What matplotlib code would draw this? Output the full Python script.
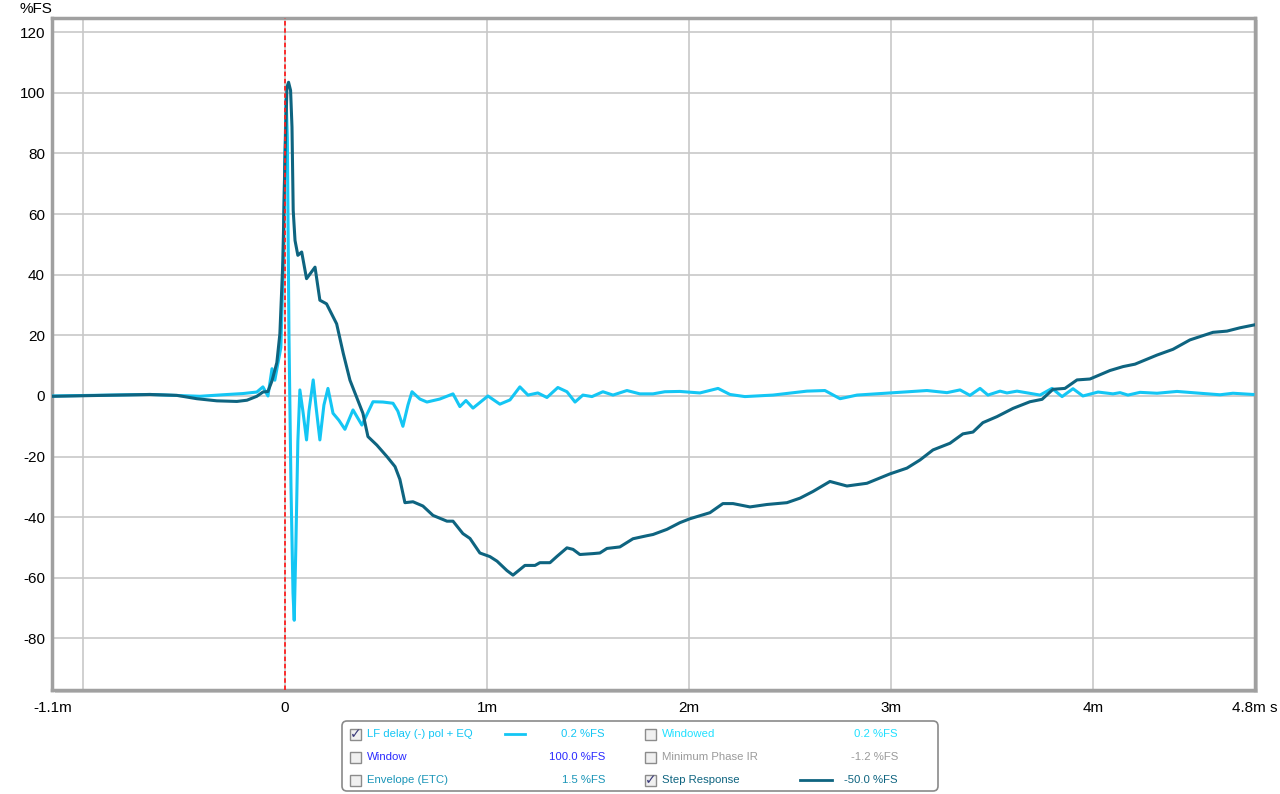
import numpy as np
import matplotlib
matplotlib.use('Agg')
import matplotlib.pyplot as plt
from matplotlib.patches import FancyBboxPatch, Rectangle
from matplotlib.transforms import IdentityTransform

plt.rcParams['font.family'] = ['Liberation Sans', 'DejaVu Sans']

# time in ms, level in %FS
step_t = [-1.153, -1.139, -0.668, -0.535, -0.436, -0.337, -0.238, -0.188, -0.139, -0.109,
          -0.084, -0.064, -0.040, -0.025, -0.010, 0.000, 0.010, 0.018, 0.028, 0.035,
          0.041, 0.050, 0.064, 0.083, 0.107, 0.149, 0.173, 0.206, 0.256, 0.289,
          0.322, 0.386, 0.411, 0.455, 0.505, 0.545, 0.569, 0.594, 0.634, 0.683,
          0.733, 0.802, 0.832, 0.881, 0.916, 0.965, 1.015, 1.050, 1.099, 1.129,
          1.188, 1.238, 1.262, 1.312, 1.347, 1.396, 1.426, 1.460, 1.525, 1.559,
          1.594, 1.658, 1.723, 1.792, 1.822, 1.891, 1.955, 2.005, 2.104, 2.168,
          2.218, 2.302, 2.386, 2.485, 2.550, 2.614, 2.698, 2.782, 2.881, 2.995,
          3.079, 3.144, 3.208, 3.292, 3.356, 3.406, 3.455, 3.525, 3.604, 3.688,
          3.748, 3.802, 3.861, 3.921, 3.985, 4.084, 4.149, 4.208, 4.317, 4.396,
          4.480, 4.594, 4.663, 4.728, 4.802]
step_v = [-0.1, -0.1, 0.5, 0.2, -0.9, -1.6, -1.8, -1.4, -0.1, 1.3,
          1.5, 5.0, 11.0, 20.5, 44.7, 77.7, 101.9, 103.5, 100.8, 88.7,
          61.2, 51.3, 46.4, 47.5, 38.7, 42.5, 31.6, 30.4, 23.8, 14.0,
          5.2, -5.7, -13.4, -16.2, -20.0, -23.3, -27.5, -35.2, -34.9, -36.3,
          -39.4, -41.3, -41.3, -45.4, -47.0, -51.8, -53.0, -54.5, -57.6, -59.1,
          -55.9, -55.9, -55.0, -55.0, -52.9, -50.1, -50.6, -52.3, -52.0, -51.8,
          -50.3, -49.8, -47.1, -46.1, -45.7, -44.0, -41.8, -40.5, -38.5, -35.5,
          -35.5, -36.6, -35.8, -35.2, -33.7, -31.5, -28.2, -29.7, -28.8, -25.7,
          -23.8, -21.1, -17.8, -15.6, -12.5, -11.9, -8.8, -6.8, -4.1, -1.9,
          -1.1, 2.2, 2.5, 5.3, 5.6, 8.4, 9.7, 10.5, 13.5, 15.4,
          18.5, 21.0, 21.4, 22.5, 23.5]

imp_t = [-1.153, -0.668, -0.505, -0.421, -0.307, -0.208, -0.139, -0.109, -0.084, -0.064,
         -0.050, -0.035, -0.020, -0.010, 0.000, 0.006, 0.012, 0.020, 0.030, 0.040,
         0.046, 0.054, 0.064, 0.074, 0.089, 0.107, 0.119, 0.140, 0.153, 0.173,
         0.193, 0.213, 0.238, 0.267, 0.297, 0.337, 0.381, 0.436, 0.485, 0.535,
         0.559, 0.584, 0.609, 0.629, 0.668, 0.703, 0.767, 0.832, 0.866, 0.896,
         0.931, 1.005, 1.064, 1.114, 1.163, 1.203, 1.252, 1.297, 1.351, 1.396,
         1.436, 1.475, 1.520, 1.574, 1.624, 1.693, 1.757, 1.822, 1.881, 1.955,
         2.054, 2.144, 2.203, 2.277, 2.416, 2.584, 2.673, 2.748, 2.832, 2.995,
         3.178, 3.277, 3.342, 3.391, 3.441, 3.480, 3.540, 3.574, 3.624, 3.738,
         3.797, 3.847, 3.901, 3.950, 4.025, 4.099, 4.134, 4.173, 4.233, 4.317,
         4.416, 4.530, 4.629, 4.693, 4.792]
imp_v = [0.0, 0.5, 0.1, -0.1, 0.4, 0.8, 1.3, 3.0, 0.0, 9.0,
         5.2, 10.7, 16.0, 40.0, 80.0, 98.0, 85.0, 20.0, -30.0, -65.0,
         -74.0, -50.0, -15.0, 2.0, -5.0, -14.5, -5.0, 5.3, -3.0, -14.5,
         -3.0, 2.5, -5.7, -8.0, -11.0, -4.6, -9.6, -1.9, -2.0, -2.4,
         -5.0, -10.0, -3.0, 1.4, -1.0, -2.0, -1.0, 0.7, -3.5, -1.5,
         -4.0, 0.0, -2.7, -1.3, 3.0, 0.3, 1.0, -0.5, 2.8, 1.4,
         -2.0, 0.3, -0.2, 1.4, 0.3, 1.8, 0.7, 0.7, 1.4, 1.5,
         1.0, 2.5, 0.5, -0.2, 0.3, 1.6, 1.8, -0.9, 0.3, 1.0,
         1.8, 1.1, 2.0, 0.2, 2.5, 0.3, 1.6, 1.0, 1.6, 0.3,
         2.5, -0.2, 2.4, 0.0, 1.3, 0.7, 1.1, 0.3, 1.2, 0.9,
         1.5, 0.9, 0.4, 0.9, 0.5]

x_ticks = [-1.15, 0, 1, 2, 3, 4, 4.8]
x_labels = ['-1.1m', '0', '1m', '2m', '3m', '4m', '4.8m s']
x_grid = [-1, 0, 1, 2, 3, 4]
y_ticks = [-80, -60, -40, -20, 0, 20, 40, 60, 80, 100, 120]

cyan = '#14c6f4'
teal = '#0e6480'

W, H = 1280, 794
fig = plt.figure(figsize=(W / 100, H / 100), dpi=100)
T = IdentityTransform()

def py(y):
    return H - y

# soft shadow behind the plot frame
fig.patches.append(Rectangle((55, py(693)), 1203, 673, transform=T,
                             facecolor='#d0d0d0', edgecolor='none', zorder=-1))

ax = fig.add_axes([52 / W, 1 - 690 / H, (1255 - 52) / W, (690 - 18) / H])

for g in x_grid:
    ax.axvline(g, color='#c8c8c8', lw=1.2, zorder=1)
for g in y_ticks:
    ax.axhline(g, color='#c8c8c8', lw=1.2, zorder=1)

ax.plot(imp_t, imp_v, color=cyan, lw=2.2, zorder=3, solid_joinstyle='round')
ax.plot(step_t, step_v, color=teal, lw=2.2, zorder=4, solid_joinstyle='round')
ax.axvline(0, color='#ff2020', lw=1.3, ls=(0, (2.5, 1.5)), zorder=5)

ax.set_xlim(-1.153, 4.802)
ax.set_ylim(-97, 124.7)
ax.set_xticks(x_ticks)
ax.set_xticklabels(x_labels, fontsize=11)
ax.set_yticks(y_ticks)
ax.set_yticklabels([str(v) for v in y_ticks], fontsize=11)
ax.tick_params(length=0, pad=8)
ax.tick_params(axis='y', pad=5)
for s in ax.spines.values():
    s.set_color('#a0a0a0')
    s.set_linewidth(2.5)

fig.text(20 / W, 1 - 9 / H, '%FS', fontsize=11, va='center', ha='left')

# legend panel drawn in pixel coords
box = FancyBboxPatch((342, py(791)), 596, 70, boxstyle='round,pad=0,rounding_size=5',
                     transform=T, facecolor='white', edgecolor='#8a8a8a', lw=1.2)
fig.patches.append(box)

rows = [734, 757, 780]
entries = [
    (356, 367, rows[0], 'LF delay (-) pol + EQ', '0.2 %FS', 605, cyan, True, (505, 525)),
    (356, 367, rows[1], 'Window', '100.0 %FS', 605, '#2a2aff', False, None),
    (356, 367, rows[2], 'Envelope (ETC)', '1.5 %FS', 605, '#1a95b8', False, None),
    (651, 662, rows[0], 'Windowed', '0.2 %FS', 898, '#20e0ff', False, None),
    (651, 662, rows[1], 'Minimum Phase IR', '-1.2 %FS', 898, '#9a9a9a', False, None),
    (651, 662, rows[2], 'Step Response', '-50.0 %FS', 898, teal, True, (800, 832)),
]
for cbx, lx, ry, label, val, vx, col, checked, seg in entries:
    fig.patches.append(Rectangle((cbx - 6, py(ry) - 6), 11, 11, transform=T,
                                 facecolor='#f0f0f0', edgecolor='#8c8c8c', lw=1))
    if checked:
        fig.text(cbx, py(ry) - 0.5, '\u2713', transform=T, fontsize=10,
                 color='#3a3a7a', ha='center', va='center', family='DejaVu Sans',
                 fontweight='bold')
    fig.text(lx, py(ry), label, transform=T, fontsize=8.2, color=col,
             ha='left', va='center')
    fig.text(vx, py(ry), val, transform=T, fontsize=8.2, color=col,
             ha='right', va='center')
    if seg is not None:
        fig.lines.append(plt.Line2D(seg, [py(ry), py(ry)], transform=T,
                                    color=col, lw=2.0))

fig.savefig('out.png', dpi=100)
